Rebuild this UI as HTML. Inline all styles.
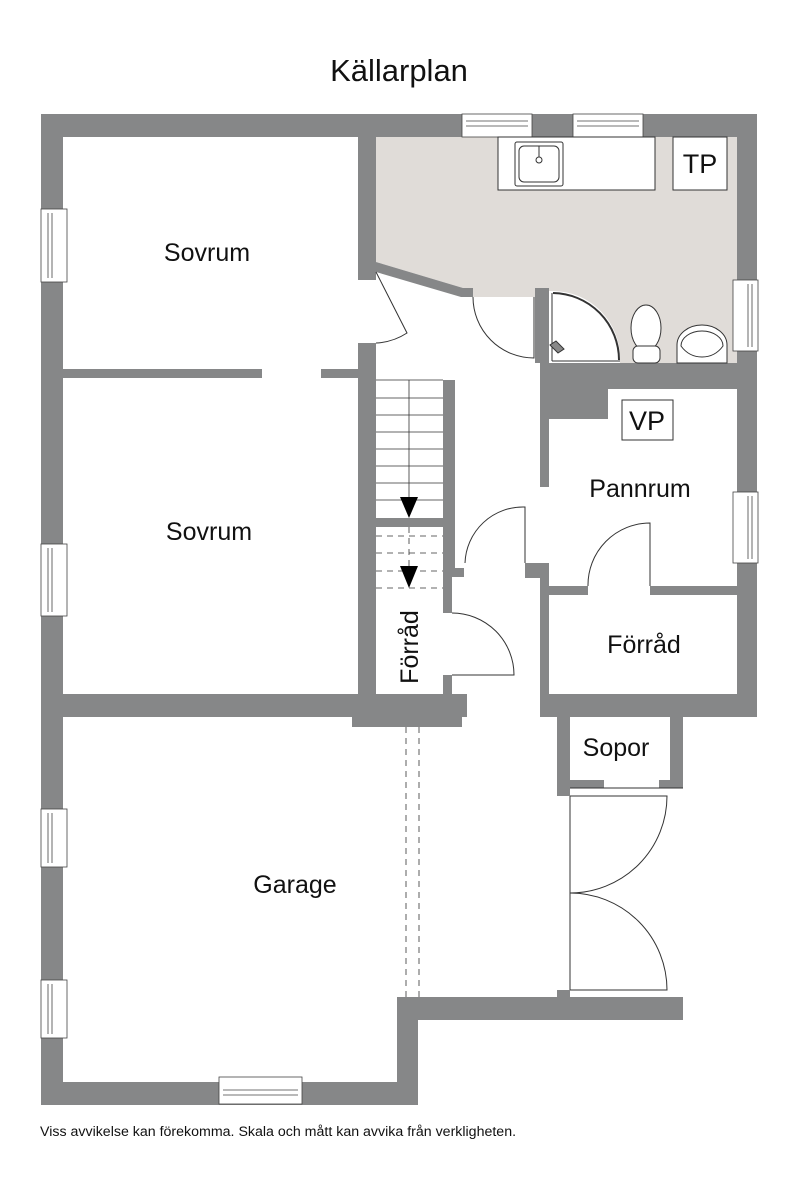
<!DOCTYPE html>
<html><head><meta charset="utf-8"><style>
html,body{margin:0;padding:0;background:#fff;}
svg{display:block;}
text{font-family:"Liberation Sans",Arial,sans-serif;fill:#111;}
</style></head><body>
<svg width="800" height="1198" viewBox="0 0 800 1198" xmlns="http://www.w3.org/2000/svg">
<text x="399" y="81" font-size="31" text-anchor="middle">Källarplan</text>

<polygon points="376,137 737,137 737,363 549,363 549,288 535,288 535,297 473,297 473,288 463,288 376,262" fill="#e0dcd8"/>

<g fill="#868788" stroke="none">
<rect x="41" y="114" width="716" height="23"/>
<rect x="41" y="114" width="22" height="991"/>
<rect x="737" y="114" width="20" height="603"/>
<rect x="358" y="137" width="18" height="143"/>
<polygon points="376,262 463,288 473,288 473,297 461,297 376,272"/>
<rect x="358" y="343" width="18" height="352"/>
<rect x="63" y="369" width="199" height="9"/>
<rect x="321" y="369" width="37" height="9"/>
<rect x="535" y="288" width="14" height="75"/>
<polygon points="540,363 737,363 737,389 608,389 608,419 549,419 549,487 540,487"/>
<polygon points="525,563 549,563 549,694 757,694 757,717 540,717 540,578 525,578"/>
<rect x="549" y="586" width="39" height="9"/>
<rect x="650" y="586" width="87" height="9"/>
<rect x="443" y="380" width="12" height="188"/>
<rect x="443" y="568" width="21" height="9"/>
<rect x="443" y="577" width="9" height="36"/>
<rect x="443" y="675" width="9" height="20"/>
<rect x="376" y="518" width="67" height="9"/>
<polygon points="41,694 467,694 467,717 462,717 462,727 352,727 352,717 41,717"/>
<rect x="41" y="1082" width="377" height="23"/>
<polygon points="397,997 683,997 683,1020 418,1020 418,1105 397,1105"/>
<rect x="557" y="990" width="13" height="7"/>
<polygon points="557,717 683,717 683,788 670,788 670,717 570,717 570,796 557,796"/>
<rect x="570" y="780" width="34" height="8"/>
<rect x="659" y="780" width="11" height="8"/>
</g>

<g fill="#fff" stroke="#444" stroke-width="0.8">
<rect x="462" y="114" width="70" height="23"/><line x1="466" y1="121" x2="528" y2="121"/><line x1="466" y1="126" x2="528" y2="126"/>
<rect x="573" y="114" width="70" height="23"/><line x1="577" y1="121" x2="639" y2="121"/><line x1="577" y1="126" x2="639" y2="126"/>
<rect x="733" y="280" width="25" height="71"/><line x1="748" y1="284" x2="748" y2="347"/><line x1="752" y1="284" x2="752" y2="347"/>
<rect x="733" y="492" width="25" height="71"/><line x1="748" y1="496" x2="748" y2="559"/><line x1="752" y1="496" x2="752" y2="559"/>
<rect x="41" y="209" width="26" height="73"/><line x1="48" y1="213" x2="48" y2="278"/><line x1="52" y1="213" x2="52" y2="278"/>
<rect x="41" y="544" width="26" height="72"/><line x1="48" y1="548" x2="48" y2="612"/><line x1="52" y1="548" x2="52" y2="612"/>
<rect x="41" y="809" width="26" height="58"/><line x1="48" y1="813" x2="48" y2="863"/><line x1="52" y1="813" x2="52" y2="863"/>
<rect x="41" y="980" width="26" height="58"/><line x1="48" y1="984" x2="48" y2="1034"/><line x1="52" y1="984" x2="52" y2="1034"/>
<rect x="219" y="1077" width="83" height="27"/><line x1="223" y1="1090" x2="298" y2="1090"/><line x1="223" y1="1095" x2="298" y2="1095"/>
</g>

<g fill="none" stroke="#333" stroke-width="1">
<rect x="498" y="137" width="157" height="53" fill="#fff"/>
<rect x="515" y="142" width="48" height="44" rx="2" fill="#fff"/>
<rect x="519" y="146" width="40" height="36" rx="5"/>
<circle cx="539" cy="160" r="3"/><line x1="539" y1="146" x2="539" y2="157"/>
<rect x="673" y="137" width="54" height="53" fill="#fff"/>
<path d="M549,291 L553,291 A67,67 0 0 1 620,360 L620,363 L549,363 Z" fill="#fff" stroke="none"/>
<path d="M553,293 A67,67 0 0 1 619,360" stroke-width="2"/>
<line x1="552" y1="293" x2="552" y2="361"/><line x1="552" y1="361" x2="620" y2="361"/>
<path d="M550,345 l8,8 l6,-4 l-8,-8 z" fill="#888"/>
<ellipse cx="646" cy="328" rx="15" ry="23" fill="#fff"/>
<rect x="633" y="346" width="27" height="17" rx="5" fill="#fff"/>
<path d="M677,363 L677,345 A25,20 0 0 1 727,345 L727,363 Z" fill="#fff"/>
<path d="M681,346 A21,15 0 0 1 723,346 Q715,357 702,357 Q689,357 681,346 Z"/>
<rect x="622" y="400" width="51" height="40" fill="#fff"/>
<path d="M376,272 L407,333 A62,62 0 0 1 376,343"/>
<path d="M534,297 L534,358 A61,61 0 0 1 473,297"/>
<path d="M525,563 L525,507 A58,58 0 0 0 465,563"/>
<path d="M650,586 L650,523 A62,62 0 0 0 588,586"/>
<path d="M452,675 L514,675 A62,62 0 0 0 452,613"/>
<line x1="570" y1="796" x2="570" y2="990"/>
<line x1="570" y1="788" x2="683" y2="788"/>
<path d="M570,796 L667,796 A97,97 0 0 1 570,893 A97,97 0 0 1 667,990 L570,990"/>
<g stroke-width="0.8">
<line x1="376" y1="398" x2="443" y2="398"/><line x1="376" y1="415" x2="443" y2="415"/>
<line x1="376" y1="432" x2="443" y2="432"/><line x1="376" y1="449" x2="443" y2="449"/>
<line x1="376" y1="466" x2="443" y2="466"/><line x1="376" y1="483" x2="443" y2="483"/>
<line x1="376" y1="500" x2="443" y2="500"/><line x1="376" y1="380" x2="443" y2="380"/>
<line x1="409" y1="380" x2="409" y2="500"/>
</g>
<g stroke-dasharray="6,5" stroke-width="0.8">
<line x1="376" y1="536" x2="443" y2="536"/><line x1="376" y1="553" x2="443" y2="553"/>
<line x1="376" y1="571" x2="443" y2="571"/><line x1="376" y1="588" x2="443" y2="588"/>
<line x1="409" y1="527" x2="409" y2="570"/>
<line x1="406" y1="727" x2="406" y2="997"/><line x1="419" y1="727" x2="419" y2="997"/>
</g>
</g>
<polygon points="400,497 418,497 409,518" fill="#000"/>
<polygon points="400,566 418,566 409,588" fill="#000"/>

<text x="207" y="261" font-size="25" text-anchor="middle">Sovrum</text>
<text x="209" y="540" font-size="25" text-anchor="middle">Sovrum</text>
<text x="640" y="497" font-size="25" text-anchor="middle">Pannrum</text>
<text x="644" y="653" font-size="25" text-anchor="middle">Förråd</text>
<text x="616" y="756" font-size="25" text-anchor="middle">Sopor</text>
<text x="295" y="893" font-size="25" text-anchor="middle">Garage</text>
<text x="700" y="173" font-size="27" text-anchor="middle">TP</text>
<text x="647" y="430" font-size="27" text-anchor="middle">VP</text>
<text x="0" y="0" font-size="25" text-anchor="middle" transform="translate(418,647) rotate(-90)">Förråd</text>
<text x="40" y="1136" font-size="14.2">Viss avvikelse kan förekomma. Skala och mått kan avvika från verkligheten.</text>
</svg>
</body></html>
